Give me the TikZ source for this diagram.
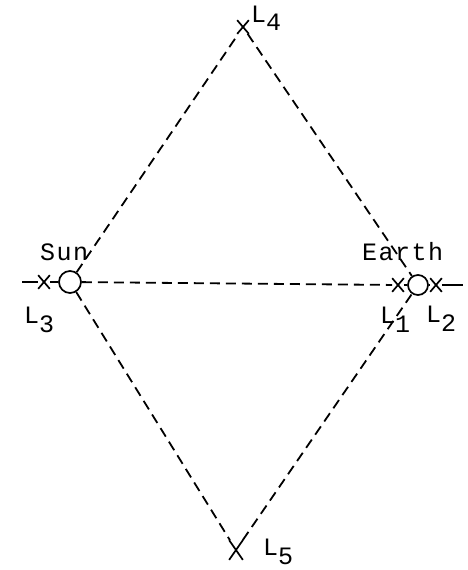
\documentclass[tikz,border=0pt]{standalone}
\usepackage{fontspec}
\newfontfamily\typer[LetterSpace=6]{Liberation Mono}
\usetikzlibrary{shapes.misc}
\tikzset{
  body/.style={circle,draw,line width=1.7pt,minimum size=22pt,inner sep=0pt},
  lpoint/.style={cross out,draw,line width=1.7pt,minimum width=10pt,minimum height=12pt,inner sep=0pt},
  orbit/.style={line width=1.8pt,dash pattern=on 10pt off 6pt},
  lab/.style={font=\fontsize{25}{27}\selectfont\typer,inner sep=0pt,anchor=base west}
}
\newcommand{\lsub}[1]{L\raisebox{-9pt}{#1}}
\begin{document}
\begin{tikzpicture}[x=1pt,y=-1pt]
 \useasboundingbox (0,0) rectangle (467,570);
 \node[body] (sun) at (70,282) {};
 \node[body,minimum size=20pt] (earth) at (418,285) {};
 \node[lpoint] (L1) at (398,285) {};
 \node[lpoint] (L2) at (436,285) {};
 \node[lpoint] (L3) at (44,282) {};
 \node[lpoint] (L4) at (243,27) {};
 \node[lpoint,minimum width=12pt,minimum height=18pt] (L5) at (236,550) {};
 \coordinate (west) at (22,282);
 \coordinate (east) at (463,285);

 \draw [orbit](sun) -- (L1);
 \draw [orbit](sun) -- (L4);
 \draw [orbit](L4) -- (earth);
 \draw [orbit](sun) -- (L5);
 \draw [orbit](L5) -- (earth);
 \draw [line width=1.7pt](west) -- (L3) -- (sun);
 \draw [line width=1.7pt](L1) -- (earth) -- (L2) -- (east);

 \node[lab] (tsun) at (40,260) {Sun};
 \node[lab] (tearth) at (362,260) {Earth};
 \node[lab] (t3) at (24,323) {\lsub{3}};
 \node[lab] (t1) at (380,323) {\lsub{1}};
 \node[lab] (t2) at (426,322) {\lsub{2}};
 \node[lab] (t4) at (251,22) {\lsub{4}};
 \node[lab] (t5) at (263,555) {\lsub{5}};
\end{tikzpicture}
\end{document}
